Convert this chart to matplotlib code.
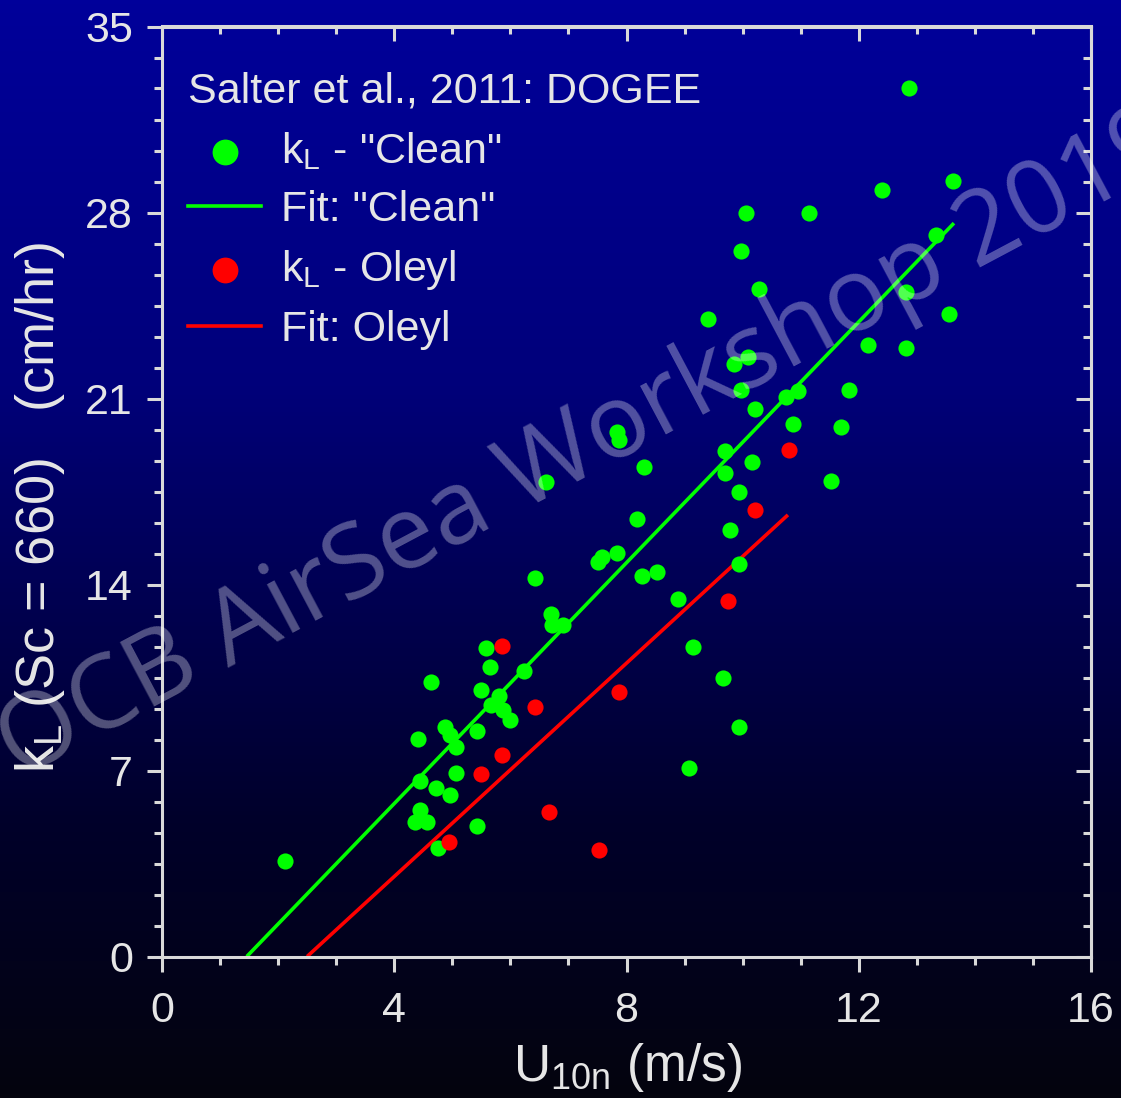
import numpy as np
import matplotlib
matplotlib.use('Agg')
import matplotlib.pyplot as plt
from matplotlib.colors import LinearSegmentedColormap
from matplotlib.ticker import MultipleLocator

# ---------------- data ----------------
clean_u = [2.11, 12.86, 13.63, 12.40, 10.06, 11.15, 13.33, 9.98, 10.29, 12.82,
           9.40, 13.56, 12.16, 12.82, 10.09, 9.86, 9.98, 10.95, 10.75, 11.84,
           10.21, 10.87, 11.69, 7.84, 7.87, 9.70, 10.17, 8.31, 9.70, 6.62,
           11.53, 9.94, 8.18, 9.78, 7.57, 7.51, 7.84, 9.94, 6.43, 8.26,
           8.53, 8.89, 6.70, 6.71, 6.91, 5.58, 9.15, 5.65, 6.23, 4.64,
           9.66, 5.50, 5.81, 5.66, 5.87, 6.00, 4.87, 4.96, 5.07, 5.42,
           4.41, 9.93, 5.07, 4.44, 9.08, 4.72, 4.96, 4.44, 4.36, 4.57,
           5.42, 4.76]
clean_k = [3.61, 32.68, 29.20, 28.85, 27.97, 27.97, 27.16, 26.55, 25.13, 25.02,
           23.99, 24.17, 23.03, 22.89, 22.57, 22.30, 21.32, 21.30, 21.05, 21.32,
           20.62, 20.03, 19.93, 19.73, 19.42, 19.04, 18.60, 18.44, 18.21, 17.87,
           17.91, 17.47, 16.46, 16.05, 15.05, 14.85, 15.18, 14.76, 14.23, 14.32,
           14.47, 13.47, 12.88, 12.48, 12.46, 11.60, 11.65, 10.89, 10.76, 10.32,
           10.49, 10.03, 9.80, 9.47, 9.28, 8.90, 8.63, 8.34, 7.90, 8.49,
           8.19, 8.65, 6.92, 6.61, 7.08, 6.33, 6.08, 5.51, 5.07, 5.07,
           4.92, 4.07]
oleyl_u = [5.85, 6.43, 7.87, 9.74, 10.21, 10.80, 5.85, 5.50, 6.66, 4.95, 7.52]
oleyl_k = [11.69, 9.40, 9.97, 13.39, 16.81, 19.06, 7.58, 6.87, 5.43, 4.30, 4.01]

fit_clean_u = [1.46, 13.64]
fit_clean_k = [0.0, 27.60]
fit_oleyl_u = [2.50, 10.78]
fit_oleyl_k = [0.0, 16.62]

x_ticks = [0, 4, 8, 12, 16]
y_ticks = [0, 7, 14, 21, 28, 35]

labels = {
    'title': 'Salter et al., 2011: DOGEE',
    'clean_pts': r'$\mathregular{k_L}$ - "Clean"',
    'clean_fit': 'Fit: "Clean"',
    'oleyl_pts': r'$\mathregular{k_L}$ - Oleyl',
    'oleyl_fit': 'Fit: Oleyl',
    'xlabel': r'$\mathregular{U_{10n}}$ (m/s)',
    'ylabel': r'$\mathregular{k_L}$ (Sc = 660)   (cm/hr)',
    'watermark': 'OCB AirSea Workshop 2019',
}

# ---------------- style ----------------
plt.rcParams['font.family'] = ['Liberation Sans', 'DejaVu Sans']
TXT = '#e6e6e6'
SPINE = '#d9d9d9'
GREEN = '#00ff00'
RED = '#ff0000'

W, H = 1121, 1098
fig = plt.figure(figsize=(W / 100, H / 100), dpi=100)

# background gradient
bg = fig.add_axes([0, 0, 1, 1], zorder=-10)
cmap = LinearSegmentedColormap.from_list(
    'bg', [(0.0, '#00009a'), (0.35, '#00007a'), (0.55, '#000050'),
           (0.75, '#00002a'), (1.0, '#04040e')])
grad = np.linspace(0, 1, 256).reshape(-1, 1)
bg.imshow(grad, aspect='auto', cmap=cmap, extent=[0, 1, 0, 1], origin='upper')
bg.set_axis_off()

ax = fig.add_axes([162 / W, 1 - 956.5 / H, (1091 - 162) / W, (956.5 - 26.5) / H])
ax.set_facecolor('none')
ax.set_xlim(0, 16)
ax.set_ylim(0, 35)

ms = 135
ax.plot(fit_clean_u, fit_clean_k, color=GREEN, lw=2.6, solid_capstyle='butt', zorder=2)
ax.plot(fit_oleyl_u, fit_oleyl_k, color=RED, lw=2.6, solid_capstyle='butt', zorder=2)
ax.scatter(clean_u, clean_k, s=ms, color=GREEN, linewidths=0, zorder=3)
ax.scatter(oleyl_u, oleyl_k, s=ms, color=RED, linewidths=0, zorder=4)

# axes & ticks
for sp in ax.spines.values():
    sp.set_color(SPINE)
    sp.set_linewidth(2.2)
ax.set_xticks(x_ticks)
ax.set_yticks(y_ticks)
ax.xaxis.set_minor_locator(MultipleLocator(1))
ax.yaxis.set_minor_locator(MultipleLocator(7 / 6))
ax.tick_params(which='both', direction='out', colors=SPINE, width=2.2,
               top=False, right=False)
ax.tick_params(which='major', length=11)
ax.tick_params(which='minor', length=5.5)
ax.tick_params(axis='x', which='major', labelsize=31, labelcolor=TXT, pad=14)
ax.tick_params(axis='y', which='major', labelsize=31, labelcolor=TXT, pad=10)

secx = ax.secondary_xaxis('top')
secx.set_xticks(x_ticks)
secx.xaxis.set_minor_locator(MultipleLocator(1))
secx.tick_params(which='both', direction='in', colors=SPINE, width=2.2, labeltop=False)
secx.tick_params(which='major', length=11)
secx.tick_params(which='minor', length=5.5)
secx.spines['top'].set_color(SPINE)
secx.spines['top'].set_linewidth(2.2)

secy = ax.secondary_yaxis('right')
secy.set_yticks(y_ticks)
secy.yaxis.set_minor_locator(MultipleLocator(7 / 6))
secy.tick_params(which='both', direction='in', colors=SPINE, width=2.2, labelright=False)
secy.tick_params(which='major', length=11)
secy.tick_params(which='minor', length=5.5)
secy.spines['right'].set_color(SPINE)
secy.spines['right'].set_linewidth(2.2)

# axis labels
fig.text(628 / W, 1 - 1068 / H, labels['xlabel'], ha='center', va='center',
         fontsize=37, color=TXT)
fig.text(40 / W, 1 - 507 / H, labels['ylabel'], ha='center', va='center',
         rotation=90, fontsize=39, color=TXT)

# legend
h1 = ax.scatter([], [], s=ms, color=GREEN, linewidths=0)
h2, = ax.plot([], [], color=GREEN, lw=2.6)
h3 = ax.scatter([], [], s=ms, color=RED, linewidths=0)
h4, = ax.plot([], [], color=RED, lw=2.6)
leg = ax.legend([h1, h2, h3, h4],
                [labels['clean_pts'], labels['clean_fit'], labels['oleyl_pts'], labels['oleyl_fit']],
                title=labels['title'], loc='upper left',
                bbox_to_anchor=(188 / W, 1 - 72 / H), bbox_transform=fig.transFigure,
                frameon=False, fontsize=31, title_fontsize=31, alignment='left',
                handlelength=1.7, handletextpad=0.45, labelspacing=0.42,
                borderpad=0, borderaxespad=0, markerscale=1.6, scatterpoints=1)
for t in leg.get_texts():
    t.set_color(TXT)
leg.get_title().set_color(TXT)

# watermark
fig.text(588 / W, 1 - 446 / H, labels['watermark'], ha='center', va='center',
         rotation=28, rotation_mode='anchor', fontsize=74, color='white',
         alpha=0.32, family=['Open Sans', 'DejaVu Sans'], zorder=20)

fig.savefig('out.png', dpi=100)
